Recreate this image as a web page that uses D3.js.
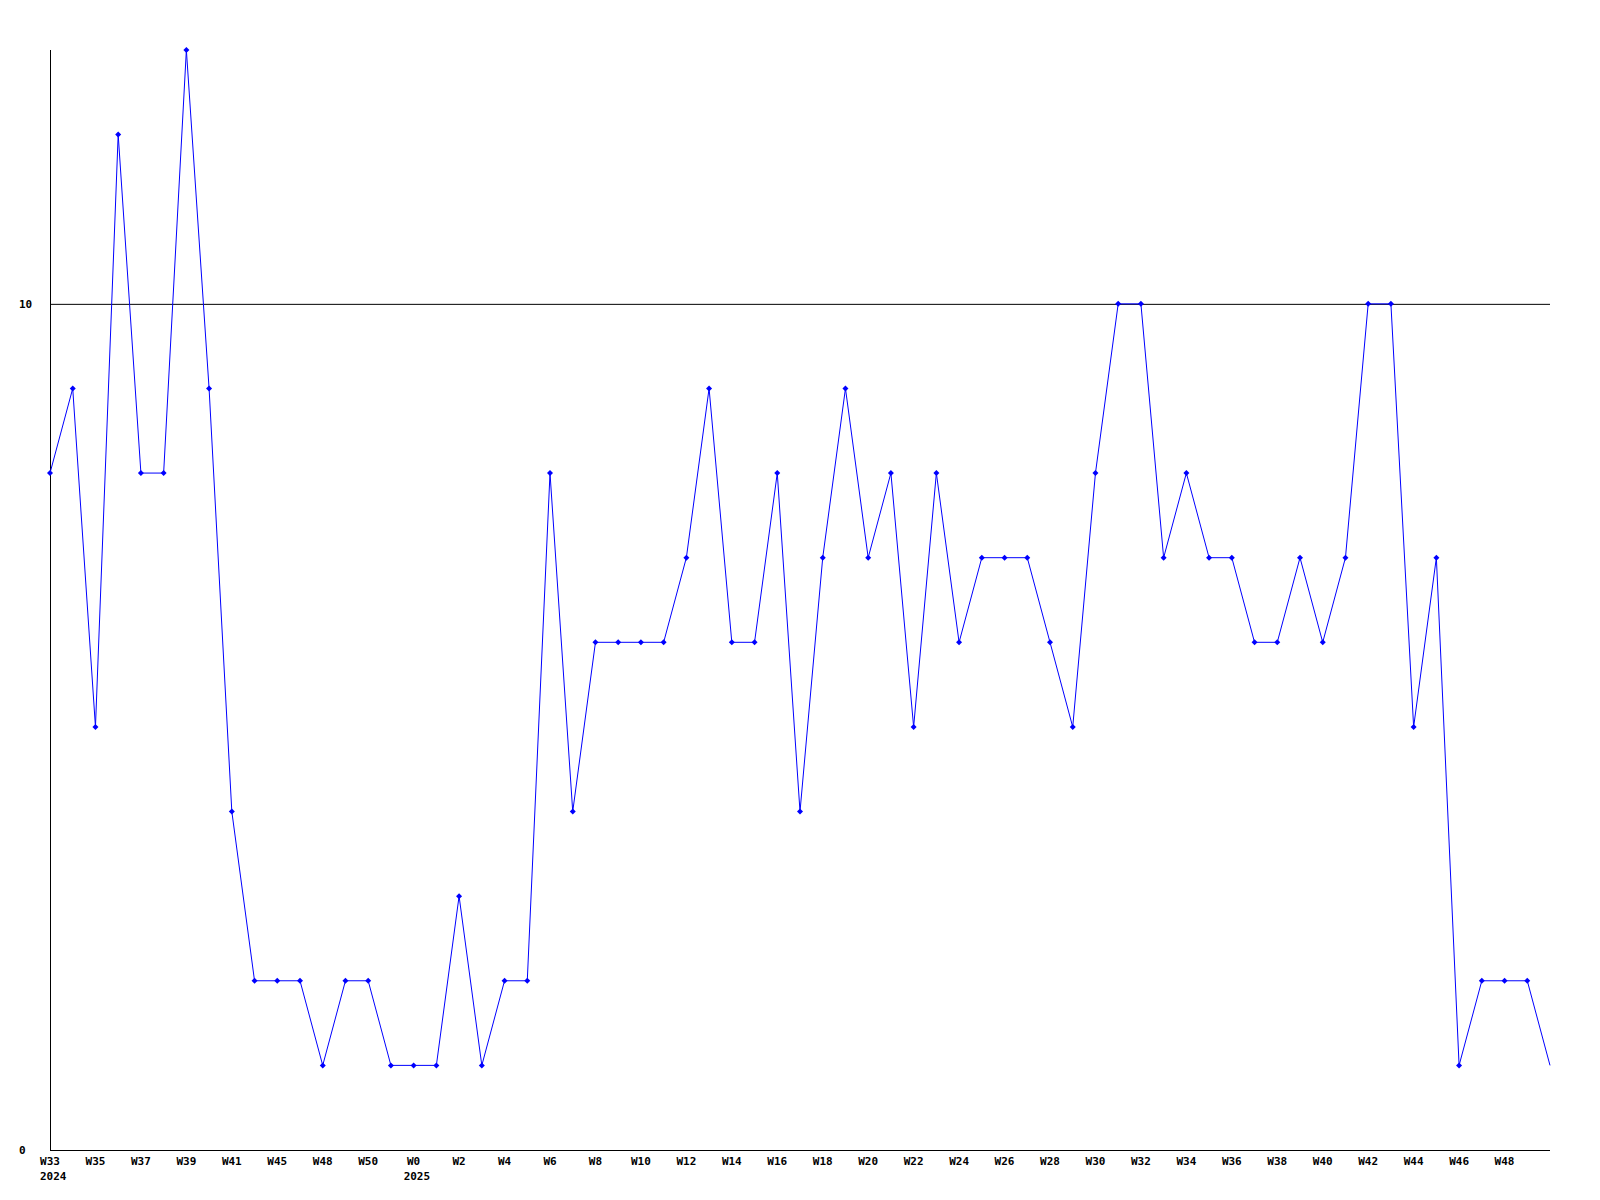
<!DOCTYPE html>
<html><head><meta charset="utf-8">
<script src="https://cdn.jsdelivr.net/npm/d3@7"></script>
<style>body{margin:0;background:#fff}svg{display:block}</style>
</head><body>
<script>
const weeks = ["W33","W34","W35","W36","W37","W38","W39","W40","W41","W43","W45","W47","W48","W49","W50","W51",
  "W0","W1","W2","W3","W4","W5","W6","W7","W8","W9","W10","W11","W12","W13","W14","W15","W16","W17","W18","W19",
  "W20","W21","W22","W23","W24","W25","W26","W27","W28","W29","W30","W31","W32","W33","W34","W35","W36","W37",
  "W38","W39","W40","W41","W42","W43","W44","W45","W46","W47","W48","W49","W50"];
const values = [8,9,5,12,8,8,13,9,4,2,2,2,1,2,2,1,1,1,3,1,2,2,8,4,6,6,6,6,7,9,6,6,8,4,7,9,7,8,5,8,6,7,7,7,6,5,8,10,10,7,8,7,7,6,6,7,6,7,10,10,5,7,1,2,2,2,1];
const yearLabels = [{index:0, text:"2024"},{index:16, text:"2025"}];
const yTicks = [0,10];

const W=1600,H=1200;
const svg=d3.select("body").append("svg").attr("width",W).attr("height",H);
const x=d3.scaleLinear().domain([0,values.length-1]).range([50,1550]);
const y=d3.scaleLinear().domain([0,13]).range([1150,50]);
const font="'DejaVu Sans Mono', monospace";

svg.selectAll("line.grid").data(yTicks).join("line")
  .attr("x1",50).attr("x2",1550).attr("y1",d=>y(d)+0.5).attr("y2",d=>y(d)+0.5)
  .attr("stroke","#000").attr("stroke-width",1);
svg.append("line").attr("x1",50.5).attr("x2",50.5).attr("y1",50).attr("y2",1150).attr("stroke","#000");
svg.selectAll("text.yl").data(yTicks).join("text")
  .attr("x",19).attr("y",d=>y(d)+4).text(d=>d)
  .attr("font-family",font).attr("font-weight","bold").attr("font-size",11);

const idx=d3.range(0,values.length-1,2);
svg.selectAll("text.xl").data(idx).join("text")
  .attr("x",d=>x(d)).attr("y",1165).attr("text-anchor","middle").text(d=>weeks[d])
  .attr("font-family",font).attr("font-weight","bold").attr("font-size",11);
svg.selectAll("text.yr").data(yearLabels).join("text")
  .attr("x",d=>x(d.index)-10).attr("y",1180).text(d=>d.text)
  .attr("font-family",font).attr("font-weight","bold").attr("font-size",11);

svg.append("path").datum(values)
  .attr("d",d3.line().x((d,i)=>x(i)).y(d=>y(d)))
  .attr("fill","none").attr("stroke","#0000ff").attr("stroke-width",1);
svg.selectAll("path.m").data(values.slice(0,values.length-1)).join("path")
  .attr("d",(d,i)=>{const cx=x(i),cy=y(d);return `M${cx-3},${cy}L${cx},${cy-3}L${cx+3},${cy}L${cx},${cy+3}Z`;})
  .attr("fill","#0000ff");
</script>
</body></html>
